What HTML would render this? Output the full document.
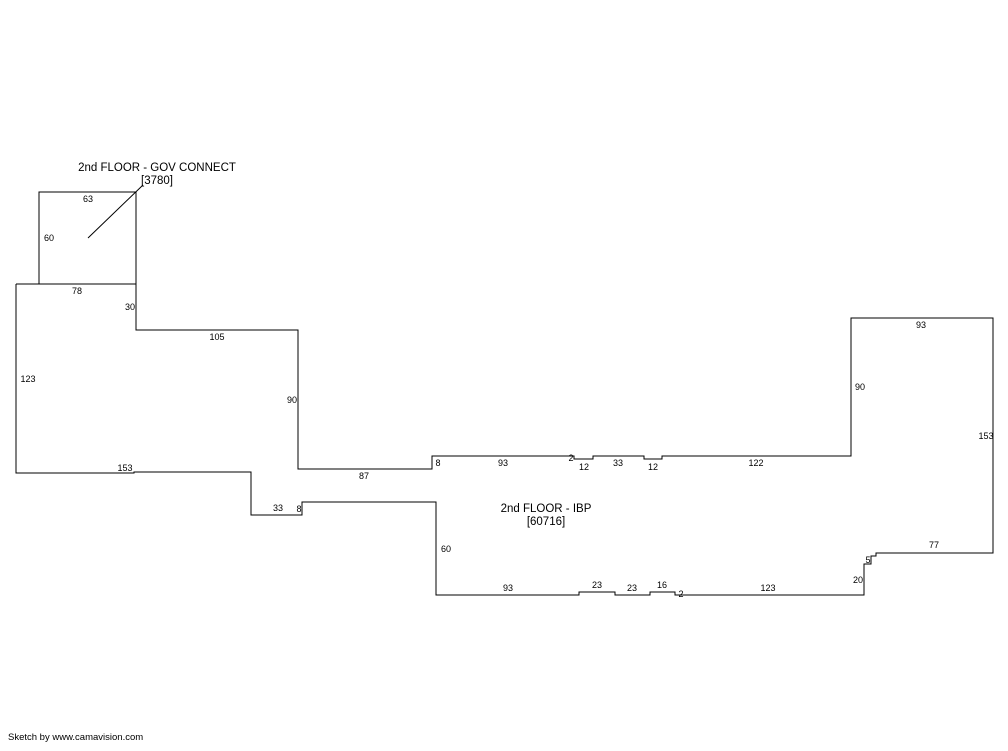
<!DOCTYPE html>
<html><head><style>
body{margin:0;background:#fff;width:1008px;height:746px;overflow:hidden}
svg text{font-family:"Liberation Sans",sans-serif;fill:#000}
</style></head><body>
<svg width="1008" height="746" xmlns="http://www.w3.org/2000/svg">
<g fill="none" stroke="#000" stroke-width="1.2" shape-rendering="crispEdges">
<rect x="39" y="192" width="97" height="92"/>
<polyline points="16,284 136,284 136,330 298,330 298,469 432,469 432,456 574,456 574,459 593,459 593,456 644,456 644,459 662,459 662,456 851,456 851,318 993,318 993,553 876,553 876,556 871,556 871,564 864,564 864,595 675,595 675,592 650,592 650,595 615,595 615,592 579,592 579,595 436,595 436,502 302,502 302,515 251,515 251,472 134,472 134,473 16,473 16,284"/>
</g>
<line x1="88" y1="238" x2="143" y2="185" stroke="#000" stroke-width="1"/>
<g font-size="9" text-anchor="middle">
<text x="88" y="202">63</text>
<text x="49" y="241">60</text>
<text x="77" y="294">78</text>
<text x="130" y="310">30</text>
<text x="217" y="340">105</text>
<text x="28" y="382">123</text>
<text x="292" y="403">90</text>
<text x="125" y="471">153</text>
<text x="364" y="479">87</text>
<text x="278" y="511">33</text>
<text x="299" y="512">8</text>
<text x="438" y="466">8</text>
<text x="503" y="466">93</text>
<text x="571" y="461">2</text>
<text x="584" y="470">12</text>
<text x="618" y="466">33</text>
<text x="653" y="470">12</text>
<text x="756" y="466">122</text>
<text x="860" y="390">90</text>
<text x="921" y="328">93</text>
<text x="986" y="439">153</text>
<text x="934" y="548">77</text>
<text x="868" y="563">5</text>
<text x="858" y="583">20</text>
<text x="446" y="552">60</text>
<text x="508" y="591">93</text>
<text x="597" y="588">23</text>
<text x="632" y="591">23</text>
<text x="662" y="588">16</text>
<text x="681" y="597">2</text>
<text x="768" y="591">123</text>
</g>
<g font-size="11.5" text-anchor="middle">
<text x="157" y="171">2nd FLOOR - GOV CONNECT</text>
<text x="157" y="184">[3780]</text>
<text x="546" y="512">2nd FLOOR - IBP</text>
<text x="546" y="525">[60716]</text>
</g>
<text x="8" y="740" font-size="9.5">Sketch by www.camavision.com</text>
</svg>
</body></html>
